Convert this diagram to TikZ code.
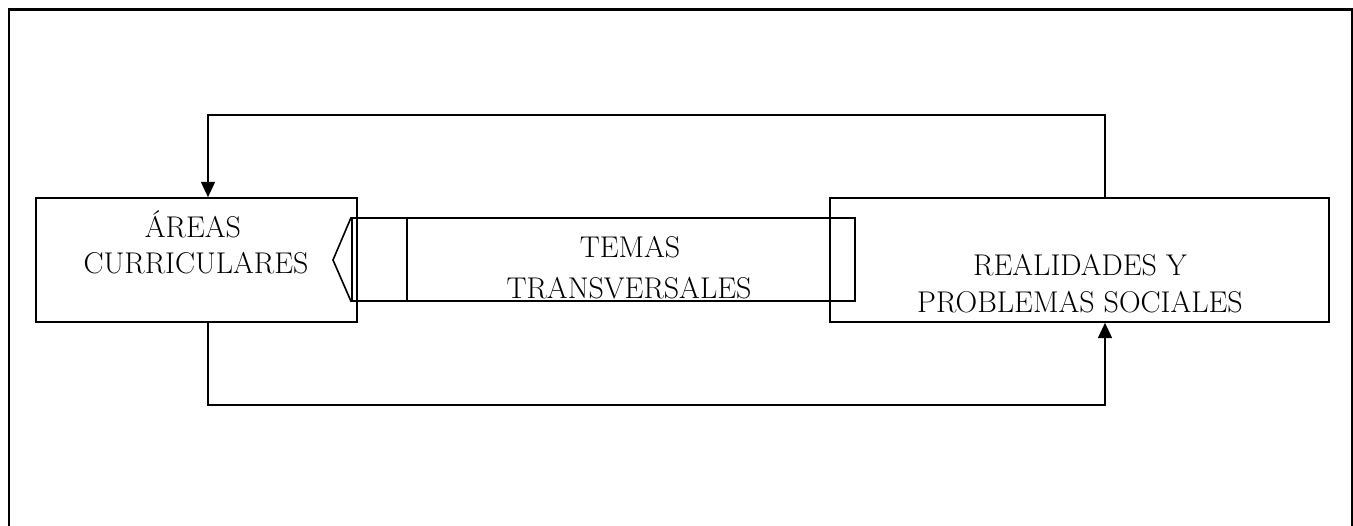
\documentclass[tikz,border=0pt]{standalone}
\usetikzlibrary{arrows.meta}
\begin{document}
\begin{tikzpicture}[x=0.75pt,y=-0.75pt,
  line width=1.2pt,
  boxnode/.style={draw, line width=1.2pt, inner sep=0pt, minimum height=93pt},
  lbl/.style={font=\fontsize{22.5}{27}\selectfont, inner sep=0pt, anchor=base},
  arr/.style={line width=1.2pt, -{Triangle[length=11.5pt,width=10.5pt]}},
  frame/.style={line width=1.6pt}]
\useasboundingbox (0,0) rectangle (1353,525);
% outer frame (open at bottom)
\draw[frame] (9,530) -- (9,9.5) -- (1351.8,9.5) -- (1351.8,530);
% boxes
\node[boxnode, minimum width=240.75pt] (areas) at (196.5,260) {};
\node[boxnode, minimum width=374.25pt] (realidades) at (1079.5,260) {};
\node[draw, line width=1.2pt, inner sep=0pt, minimum width=377.25pt, minimum height=62.25pt] (temas) at (603.5,259.5) {};
\coordinate (tip) at (333,260);
\draw (temas.north west) -- (tip) -- (temas.south west);
\coordinate (divtop) at (407,218);
\draw (divtop) -- (divtop |- temas.south);
% labels
\node[lbl] (areasA) at (193,237) {ÁREAS};
\node[lbl] (areasB) at (196,273) {CURRICULARES};
\node[lbl] (temasA) at (630,257) {TEMAS};
\node[lbl] (temasB) at (629,298) {TRANSVERSALES};
\node[lbl] (realA) at (1080,275) {REALIDADES Y};
\node[lbl] (realB) at (1080,312) {PROBLEMAS SOCIALES};
% connectors
\coordinate (t1) at (1105,115);
\coordinate (t2) at (208,115);
\coordinate (b1) at (208,405);
\coordinate (b2) at (1105,405);
\draw[arr] (realidades.north -| t1) -- (t1) -- (t2) -- (areas.north -| t2);
\draw[arr] (areas.south -| b1) -- (b1) -- (b2) -- (realidades.south -| b2);
\end{tikzpicture}
\end{document}
